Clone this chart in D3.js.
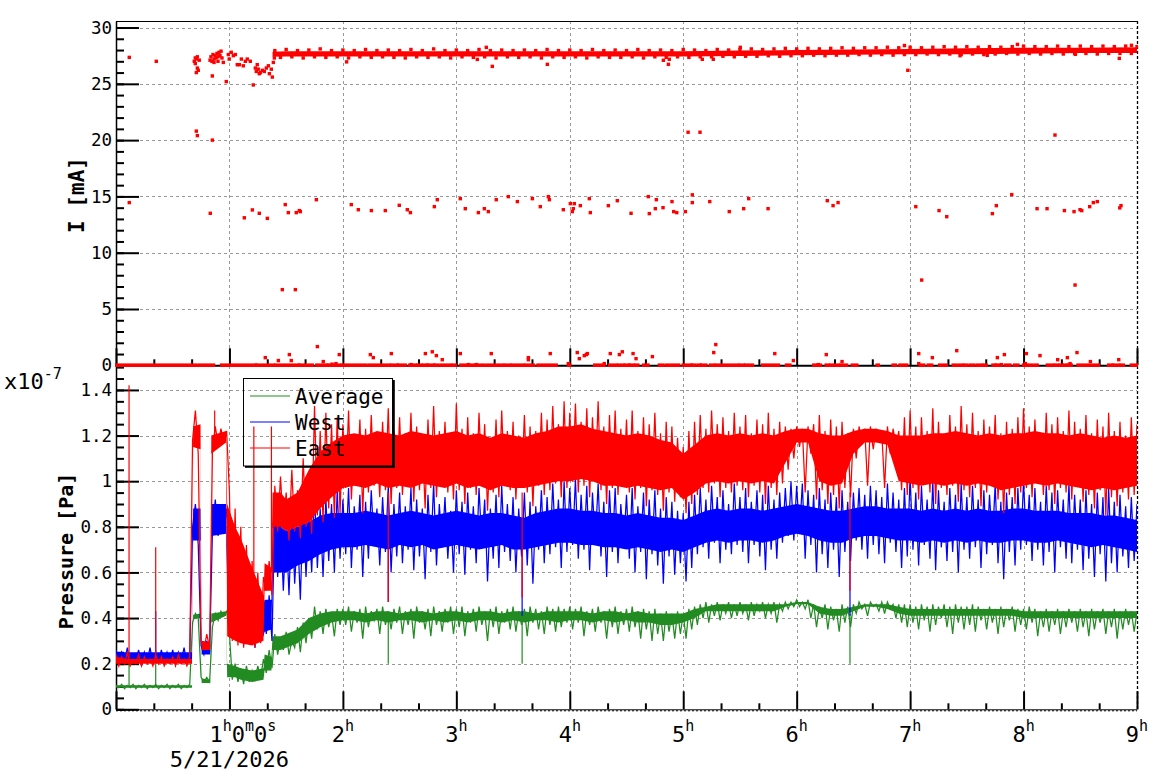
<!DOCTYPE html>
<html><head><meta charset="utf-8">
<script src="https://cdn.jsdelivr.net/npm/d3@7"></script>
<style>body{margin:0;background:#fff}svg{display:block}</style>
</head><body>
<script>
// ---------------- DATA ----------------
const currentTicks = [0,5,10,15,20,25,30];
const pressureTicks = [0,0.2,0.4,0.6,0.8,1,1.2,1.4];
const hourTicks = [1,2,3,4,5,6,7,8,9];
const hourLabels = ["1^h0^m0^s","2^h","3^h","4^h","5^h","6^h","7^h","8^h","9^h"];
const dateLabel = "5/21/2026";
const seriesNames = ["Average","West","East"];

// Top panel: I [mA]. Runs of zero-current readings [start h, end h]
const zeroRunStart = [0.0,0.73,0.93,1.24,1.41,1.62,1.70,1.77,1.87,1.99,2.23,2.43,2.49,2.59,2.66,2.71,2.75,2.81,2.87,2.97,3.04,3.11,3.27,3.43,3.49,3.61,3.72,3.99,4.22,4.35,4.43,4.49,4.53,4.58,4.65,4.79,4.85,5.00,5.08,5.13,5.16,5.24,5.29,5.41,5.50,5.55,5.70,5.91,6.15,6.19,6.26,6.30,6.34,6.39,6.49,6.71,6.85,6.91,7.09,7.16,7.26,7.38,7.43,7.48,7.53,7.59,7.65,7.73,7.76,7.84,7.92,8.00,8.10,8.21,8.28,8.32,8.36,8.39,8.48,8.61,8.75,8.79,8.86,8.95];
const zeroRunEnd   = [0.70,0.86,1.23,1.39,1.61,1.67,1.73,1.86,1.97,2.20,2.41,2.48,2.55,2.64,2.69,2.74,2.80,2.84,2.95,2.99,3.09,3.24,3.41,3.47,3.59,3.68,3.88,4.00,4.30,4.41,4.47,4.52,4.56,4.60,4.69,4.82,4.96,5.07,5.10,5.15,5.20,5.27,5.38,5.48,5.53,5.61,5.84,5.94,6.18,6.21,6.28,6.32,6.37,6.44,6.53,6.72,6.87,6.97,7.12,7.19,7.32,7.40,7.46,7.50,7.56,7.63,7.67,7.75,7.79,7.88,7.95,8.07,8.12,8.26,8.30,8.34,8.38,8.42,8.58,8.66,8.78,8.84,8.88,9.0];
// main stable current band (core)
const bandT  = [1.38,1.5,2,2.5,3,3.5,4,4.5,5,5.5,6,6.5,7,7.5,8,8.5,9];
const bandLo = [27.4,27.43,27.43,27.43,27.43,27.43,27.43,27.43,27.43,27.48,27.53,27.58,27.63,27.63,27.68,27.73,27.73];
const bandHi = [27.85,27.9,27.9,27.9,27.9,27.9,27.9,27.9,27.9,27.95,28.0,28.05,28.1,28.15,28.2,28.2,28.25];
// band edge readings, one every 0.05 h starting at 1.40 h
const bandJitterStartH = 1.4, bandJitterStepH = 0.05;
const bandJitterI = [27.95,27.35,28.05,27.40,27.95,27.30,28.00,27.40,28.10,27.35,27.95,27.40,28.00,27.30,27.95,27.40,28.05,27.35,27.95,27.40,28.00,27.35,27.95,27.30,28.05,27.40,27.95,27.35,28.10,27.40,27.95,27.30,28.00,27.40,27.95,27.35,28.05,27.40,27.95,27.30,28.00,27.40,27.95,27.35,28.00,27.40,27.95,27.30,28.05,27.40,27.95,27.35,28.00,27.40,27.95,27.30,28.05,27.40,27.95,27.35,28.00,27.35,27.95,27.40,28.05,27.30,27.95,27.40,28.00,27.35,27.95,27.40,28.05,27.35,28.00,27.40,27.95,27.40,28.05,27.45,28.00,27.40,28.05,27.45,28.10,27.45,28.05,27.50,28.10,27.45,28.15,27.50,28.10,27.50,28.15,27.55,28.10,27.50,28.15,27.55,28.20,27.55,28.15,27.60,28.20,27.55,28.20,27.60,28.25,27.55,28.20,27.60,28.25,27.60,28.20,27.65,28.25,27.60,28.30,27.65,28.25,27.60,28.30,27.65,28.25,27.60,28.30,27.65,28.25,27.70,28.30,27.65,28.35,27.70,28.30,27.65,28.30,27.70,28.35,27.65,28.30,27.70,28.35,27.70,28.30,27.65,28.35,27.70,28.30,27.70,28.35,27.70,28.30];
// early (ramp-up) current readings
const earlyT = [0.117,0.355,0.690,0.699,0.708,0.717,0.725,0.734,0.708,0.717,0.699,0.708,0.717,0.849,0.849,0.829,0.837,0.846,0.855,0.864,0.873,0.882,0.890,0.899,0.908,0.917,0.926,0.934,0.864,0.899,0.946,0.972,0.990,0.998,1.016,1.034,1.052,1.069,1.087,1.105,1.122,1.140,1.157,1.184,1.210,1.228,1.237,1.245,1.254,1.263,1.272,1.290,1.307,1.325,1.343,1.352,1.369,1.378,1.387,1.396];
const earlyI = [27.35,27.0,27.0,27.3,27.2,26.4,26.2,27.1,26.0,27.4,26.8,20.8,20.4,25.7,20.0,27.1,27.4,27.0,27.6,27.2,27.5,27.3,27.7,27.4,27.8,27.5,27.9,27.3,26.9,27.0,26.9,25.2,27.6,27.2,27.8,27.5,27.6,26.7,26.7,27.2,26.6,27.0,27.2,27.0,24.9,26.4,26.1,26.7,26.3,25.9,26.0,26.2,26.1,26.4,26.6,25.9,26.3,25.6,26.9,27.3];
// single readings off the band
const bandOutT = [2.033,3.185,3.317,3.802,4.825,4.869,4.877,5.168,5.265,3.264,5.503,7.946,7.68,8.457,8.844,8.951,7.44,6.98,6.95,5.043,5.148,8.277];
const bandOutI = [26.95,27.17,26.55,26.73,27.09,26.73,27.18,27.18,27.18,28.24,28.24,28.5,27.53,27.62,27.26,28.42,27.5,26.2,28.4,20.7,20.7,20.45];
const midT = [0.117,0.831,1.131,1.202,1.263,1.334,1.492,1.519,1.589,1.616,1.625,1.766,2.074,2.136,2.251,2.374,2.497,2.568,2.595,2.806,2.832,3.035,3.079,3.194,3.247,3.282,3.352,3.458,3.538,3.670,3.740,3.811,3.820,3.943,4.005,4.022,4.031,4.040,4.093,4.172,4.181,4.340,4.419,4.540,4.692,4.701,4.754,4.763,4.822,4.901,4.916,4.943,5.019,5.080,5.080,5.234,5.406,5.533,5.577,5.748,6.270,6.321,6.365,7.050,7.255,7.323,7.725,7.760,7.896,8.119,8.207,8.360,8.445,8.498,8.513,8.583,8.615,8.650,8.848,8.859,1.466,1.581,7.102,8.454];
const midI = [14.45,13.5,13.1,13.8,13.5,13.05,14.27,13.56,13.56,13.74,13.65,14.71,14.27,13.82,13.74,13.74,14.21,13.82,13.56,14.09,14.71,14.8,13.91,13.56,13.91,13.65,14.71,14.98,14.54,14.8,14.09,14.98,14.71,13.82,14.36,13.65,13.91,14.36,14.18,14.8,13.56,14.18,14.62,13.5,14.98,13.47,13.91,14.71,14.0,14.54,13.65,13.56,13.65,15.14,14.45,14.54,13.65,13.91,14.8,13.91,14.62,14.18,14.45,14.09,13.74,13.2,13.47,14.18,15.16,13.91,13.91,13.74,13.65,13.82,13.74,14.09,14.45,14.54,13.98,14.18,6.72,6.72,7.57,7.13];
const lowT = [1.316,1.431,1.528,1.545,1.775,1.827,1.904,1.939,1.968,2.242,2.268,2.427,2.603,2.727,2.788,2.824,2.876,3.035,3.106,3.176,3.308,3.635,3.635,3.828,3.987,4.066,4.084,4.128,4.146,4.155,4.304,4.357,4.437,4.463,4.558,4.584,4.728,5.269,5.287,5.807,5.971,6.191,6.261,6.400,7.076,7.076,7.196,7.411,7.769,7.804,7.831,8.016,8.025,8.145,8.301,8.386,8.410,8.471,8.589,8.839];
const lowI = [0.68,0.42,0.95,0.42,1.66,0.33,0.10,0.15,0.95,0.95,0.68,1.04,0.06,1.04,1.2,0.86,0.5,1.04,0.06,0.06,1.04,0.68,0.5,1.04,0.15,1.13,0.59,0.86,0.95,1.04,0.15,1.04,0.95,1.2,1.04,0.59,0.77,1.13,1.84,1.04,0.42,0.06,0.95,0.33,1.04,0.15,0.68,1.3,0.68,0.06,0.95,0.15,1.04,0.86,0.5,0.68,0.15,1.13,0.33,0.5];

// Bottom panel: pressure [x1e-7 Pa]; dense core band (lower/upper edge) at coreT [h]
const coreT = [0,0.1,0.2,0.3,0.4,0.5,0.6,0.67,0.68,0.745,0.755,0.83,0.84,0.97,0.98,1.05,1.1,1.2,1.3,1.31,1.37,1.38,1.45,1.5,1.6,1.7,1.8,1.9,2.0,2.1,2.2,2.3,2.4,2.5,2.6,2.7,2.8,2.9,3.0,3.1,3.2,3.3,3.4,3.5,3.6,3.7,3.8,3.9,4.0,4.1,4.2,4.3,4.4,4.5,4.6,4.7,4.8,4.9,5.0,5.1,5.2,5.3,5.4,5.5,5.6,5.7,5.8,5.9,6.0,6.1,6.2,6.3,6.4,6.5,6.6,6.7,6.8,6.9,7.0,7.1,7.2,7.3,7.4,7.5,7.6,7.7,7.8,7.9,8.0,8.1,8.2,8.3,8.4,8.5,8.6,8.7,8.8,8.9,9.0];
const eastLo = [0.20,0.20,0.20,0.20,0.20,0.20,0.20,0.20,1.15,1.14,0.26,0.26,1.12,1.17,0.32,0.30,0.29,0.28,0.30,0.52,0.52,0.80,0.80,0.78,0.80,0.82,0.88,0.93,0.97,
 0.98,0.97,0.99,0.97,0.98,0.97,0.99,0.98,0.97,0.99, 0.97,0.98,0.96,0.98,0.97,0.97,0.98,0.99,1.00,1.00, 1.01,1.00,0.98,0.98,0.97,0.98,0.97,0.96,0.97,0.92, 0.95,0.99,1.00,0.99,1.00,0.99,1.00,0.99,1.08,1.17, 1.17,1.00,0.98,0.99,1.12,1.17,1.17,1.16,1.00,0.99, 0.98,0.99,0.98,0.99,0.98,0.99,0.98,0.96,0.97,0.98, 0.99,0.98,0.99,0.98,0.97,0.96,0.97,0.96,0.97,0.98];
const eastHi = [0.23,0.22,0.22,0.22,0.22,0.22,0.22,0.22,1.24,1.25,0.30,0.29,1.20,1.22,0.90,0.80,0.75,0.62,0.50,0.64,0.62,0.95,0.95,0.92,0.95,1.05,1.13,1.17,1.20,
 1.21,1.20,1.22,1.21,1.20,1.22,1.21,1.20,1.21,1.22, 1.20,1.21,1.19,1.21,1.20,1.19,1.21,1.22,1.24,1.24, 1.25,1.23,1.22,1.21,1.20,1.21,1.20,1.18,1.17,1.12, 1.16,1.20,1.21,1.20,1.21,1.20,1.21,1.20,1.22,1.23, 1.23,1.21,1.20,1.20,1.22,1.23,1.23,1.22,1.20,1.20, 1.20,1.21,1.21,1.22,1.21,1.20,1.21,1.20,1.21,1.21, 1.22,1.21,1.21,1.20,1.21,1.20,1.19,1.20,1.19,1.20];
const westLo = [0.21,0.21,0.21,0.21,0.21,0.21,0.21,0.21,0.74,0.74,0.24,0.24,0.76,0.77,0.55,0.35,0.32,0.30,0.32,0.34,0.35,0.60,0.60,0.60,0.63,0.65,0.68,0.70,0.71,
 0.71,0.72,0.71,0.70,0.72,0.71,0.72,0.70,0.71,0.72, 0.71,0.70,0.71,0.72,0.70,0.70,0.71,0.72,0.73,0.73, 0.72,0.72,0.71,0.71,0.70,0.71,0.70,0.69,0.70,0.69, 0.71,0.73,0.74,0.73,0.74,0.74,0.73,0.74,0.76,0.77, 0.76,0.74,0.73,0.73,0.75,0.76,0.76,0.75,0.74,0.74, 0.73,0.74,0.73,0.74,0.73,0.74,0.73,0.73,0.74,0.74, 0.73,0.73,0.74,0.73,0.72,0.71,0.72,0.71,0.70,0.69];
const westHi = [0.25,0.25,0.25,0.25,0.25,0.25,0.25,0.25,0.88,0.88,0.30,0.29,0.90,0.90,0.68,0.55,0.50,0.48,0.46,0.48,0.48,0.82,0.80,0.78,0.80,0.82,0.85,0.86,0.86,
 0.86,0.87,0.86,0.85,0.86,0.87,0.86,0.85,0.86,0.87, 0.86,0.85,0.86,0.86,0.85,0.84,0.86,0.87,0.88,0.88, 0.87,0.87,0.86,0.86,0.85,0.86,0.85,0.84,0.84,0.83, 0.85,0.87,0.88,0.87,0.88,0.88,0.87,0.88,0.89,0.90, 0.89,0.88,0.87,0.87,0.88,0.89,0.89,0.88,0.88,0.88, 0.87,0.88,0.87,0.88,0.87,0.88,0.87,0.87,0.88,0.88, 0.87,0.87,0.87,0.86,0.86,0.86,0.85,0.85,0.84,0.83];
const avgLo = [0.095,0.095,0.095,0.095,0.095,0.095,0.095,0.095,0.395,0.40,0.115,0.115,0.38,0.41,0.14,0.14,0.13,0.12,0.13,0.17,0.17,0.26,0.26,0.27,0.29,0.33,0.36,0.38,0.39,
 0.39,0.38,0.39,0.38,0.39,0.39,0.38,0.39,0.38,0.39, 0.38,0.39,0.39,0.38,0.39,0.38,0.39,0.39,0.38,0.39, 0.39,0.38,0.39,0.38,0.39,0.38,0.38,0.37,0.37,0.38, 0.40,0.43,0.43,0.43,0.43,0.43,0.43,0.43,0.45,0.46, 0.46,0.42,0.41,0.41,0.43,0.45,0.45,0.44,0.42,0.41, 0.41,0.41,0.41,0.41,0.41,0.41,0.41,0.41,0.41,0.40, 0.40,0.40,0.40,0.40,0.40,0.40,0.40,0.40,0.40,0.40];
const avgHi = [0.105,0.105,0.105,0.105,0.105,0.105,0.105,0.105,0.415,0.42,0.135,0.13,0.42,0.43,0.20,0.19,0.18,0.17,0.18,0.24,0.23,0.32,0.32,0.33,0.35,0.40,0.42,0.43,0.43,
 0.43,0.42,0.43,0.43,0.42,0.43,0.43,0.42,0.43,0.43, 0.42,0.43,0.43,0.42,0.43,0.43,0.42,0.43,0.43,0.43, 0.43,0.42,0.43,0.43,0.42,0.43,0.42,0.42,0.42,0.42, 0.44,0.45,0.46,0.46,0.46,0.46,0.46,0.46,0.46,0.47, 0.47,0.45,0.44,0.44,0.45,0.46,0.46,0.46,0.45,0.44, 0.44,0.44,0.44,0.44,0.44,0.44,0.44,0.44,0.44,0.43, 0.43,0.43,0.43,0.43,0.43,0.43,0.43,0.43,0.43,0.43];

// fluctuation readings, one every 0.025 h from 0 h (20 per row = 0.5 h)
const sampleStepH = 0.025;
const eastSamples = [
 0.24,0.19,0.23,0.20,0.25,0.19,0.22,0.20,0.24,0.19,0.23,0.20,0.22,0.19,0.24,0.20,0.23,0.19,0.22,0.20,
 0.23,0.19,0.24,0.20,0.22,0.19,0.23,1.18,1.31,1.12,0.30,0.26,0.33,0.27,1.13,1.24,1.16,1.23,1.17,1.22,
 0.95,0.30,0.88,0.28,0.80,0.27,0.72,0.30,0.65,0.27,0.60,0.29,0.58,0.52,0.65,0.50,0.98,0.78,1.02,0.80,
 0.95,0.74,1.05,0.78,0.96,0.75,1.10,0.80,0.98,0.77,1.33,0.85,1.22,0.82,1.30,0.88,1.25,0.84,1.28,0.86,
 1.25,0.97,1.31,0.92,1.20,0.99,1.27,0.86,1.23,0.95,1.29,0.98,1.18,0.93,1.26,0.96,1.32,0.90,1.22,0.97,
 1.28,0.94,1.21,0.99,1.30,0.91,1.24,0.96,1.19,0.88,1.27,0.97,1.33,0.93,1.22,0.98,1.26,0.95,1.20,0.92,
 1.34,0.96,1.23,0.90,1.28,0.97,1.21,0.94,1.30,0.99,1.25,0.87,1.19,0.95,1.27,0.93,1.31,0.98,1.22,0.96,
 1.26,0.92,1.20,0.97,1.29,0.95,1.24,0.89,1.22,0.98,1.30,0.94,1.27,0.96,1.33,0.99,1.25,0.93,1.35,0.97,
 1.30,1.00,1.34,0.95,1.26,0.98,1.32,0.93,1.28,1.01,1.35,0.96,1.24,0.90,1.29,0.97,1.31,0.94,1.23,0.98,
 1.27,0.95,1.31,0.92,1.22,0.97,1.28,0.89,1.25,0.96,1.30,0.94,1.21,0.87,1.26,0.95,1.24,0.91,1.19,0.93,
 1.15,0.86,1.22,0.90,1.26,0.94,1.29,0.97,1.23,0.95,1.31,0.99,1.25,0.93,1.28,0.97,1.22,0.95,1.30,0.98,
 1.24,0.96,1.29,0.93,1.21,0.98,1.27,0.95,1.25,0.90,1.30,0.97,1.23,0.94,1.26,0.99,1.24,1.05,1.23,1.10,
 1.24,1.15,1.23,0.95,1.24,1.12,1.25,0.92,1.29,0.96,1.22,0.90,1.27,0.94,1.24,0.88,1.26,0.97,1.21,0.93,
 1.23,1.10,1.24,1.16,1.23,0.98,1.24,1.14,1.23,1.17,1.22,0.97,1.24,1.12,1.23,1.15,1.22,0.96,1.28,0.94,
 1.31,0.97,1.24,0.92,1.28,0.99,1.22,0.95,1.32,0.90,1.26,0.97,1.20,0.94,1.29,0.98,1.24,0.91,1.33,0.96,
 1.25,0.93,1.30,0.97,1.22,0.89,1.27,0.95,1.24,0.98,1.29,0.92,1.21,0.86,1.26,0.94,1.23,0.90,1.28,0.95,
 1.32,0.97,1.24,0.93,1.27,0.99,1.21,0.94,1.30,0.96,1.25,0.90,1.28,0.97,1.22,0.95,1.31,0.92,1.26,0.98,
 1.23,0.91,1.29,0.94,1.21,0.88,1.27,0.96,1.24,0.85,1.30,0.93,1.22,0.89,1.26,0.95,1.20,0.92,1.28,0.94,
 1.25];
const westSamples = [
 0.26,0.20,0.25,0.21,0.27,0.20,0.24,0.22,0.26,0.19,0.25,0.21,0.27,0.20,0.24,0.21,0.26,0.20,0.25,0.21,
 0.26,0.20,0.25,0.21,0.27,0.20,0.24,0.80,0.90,0.72,0.28,0.24,0.30,0.25,0.78,0.92,0.76,0.90,0.77,0.88,
 0.68,0.35,0.58,0.30,0.52,0.28,0.50,0.31,0.48,0.27,0.47,0.30,0.46,0.33,0.50,0.30,0.88,0.58,0.82,0.52,
 0.80,0.50,0.86,0.55,0.78,0.48,0.90,0.58,0.84,0.60,0.95,0.62,0.88,0.58,0.92,0.65,0.90,0.60,0.96,0.66,
 0.92,0.68,0.97,0.62,0.89,0.70,0.94,0.58,0.91,0.66,0.96,0.72,0.88,0.63,0.93,0.69,0.98,0.60,0.90,0.67,
 0.95,0.64,0.89,0.70,0.97,0.61,0.92,0.67,0.88,0.57,0.94,0.69,0.99,0.63,0.90,0.71,0.93,0.66,0.87,0.60,
 0.96,0.68,0.91,0.59,0.95,0.70,0.89,0.64,0.97,0.72,0.92,0.56,0.88,0.66,0.94,0.62,0.98,0.69,0.90,0.65,
 0.93,0.60,0.88,0.67,0.95,0.63,0.91,0.55,0.89,0.70,0.96,0.64,0.93,0.68,0.99,0.71,0.92,0.62,1.00,0.69,
 0.97,0.72,1.01,0.66,0.94,0.70,0.98,0.61,0.95,0.73,0.99,0.67,0.91,0.58,0.96,0.69,0.97,0.64,0.90,0.71,
 0.94,0.66,0.97,0.60,0.89,0.69,0.95,0.57,0.92,0.68,0.96,0.63,0.88,0.55,0.93,0.67,0.91,0.59,0.87,0.64,
 0.86,0.56,0.91,0.62,0.94,0.68,0.97,0.71,0.92,0.66,0.98,0.73,0.93,0.64,0.96,0.70,0.90,0.68,0.99,0.72,
 0.93,0.69,0.97,0.64,0.91,0.72,0.96,0.67,0.94,0.61,0.98,0.70,0.92,0.66,0.95,0.73,0.97,0.76,1.00,0.74,
 0.98,0.77,0.99,0.66,0.96,0.72,0.94,0.60,0.97,0.68,0.92,0.62,0.95,0.70,0.93,0.58,0.96,0.69,0.91,0.65,
 0.95,0.74,0.97,0.70,0.94,0.66,0.98,0.72,0.96,0.68,0.93,0.64,0.99,0.73,0.95,0.69,0.92,0.62,0.97,0.67,
 1.02,0.70,0.95,0.63,0.98,0.72,0.92,0.66,1.00,0.61,0.96,0.71,0.91,0.65,0.97,0.69,0.94,0.60,0.99,0.70,
 0.93,0.66,0.98,0.71,0.92,0.62,0.96,0.68,0.94,0.72,0.99,0.64,0.91,0.57,0.95,0.69,0.93,0.63,0.97,0.70,
 1.00,0.72,0.94,0.65,0.97,0.70,0.91,0.63,0.98,0.69,0.95,0.60,0.96,0.71,0.92,0.66,0.99,0.64,0.94,0.70,
 0.92,0.61,0.96,0.66,0.90,0.58,0.95,0.68,0.93,0.56,0.97,0.64,0.91,0.60,0.94,0.67,0.89,0.62,0.93,0.65,
 0.90];
const avgSamples = [
 0.105,0.095,0.11,0.09,0.105,0.095,0.11,0.09,0.105,0.095,0.11,0.09,0.105,0.095,0.11,0.09,0.105,0.095,0.11,0.09,
 0.105,0.095,0.11,0.09,0.105,0.095,0.11,0.38,0.42,0.40,0.14,0.12,0.14,0.12,0.36,0.42,0.39,0.43,0.41,0.43,
 0.33,0.13,0.20,0.12,0.18,0.11,0.19,0.12,0.17,0.13,0.19,0.14,0.22,0.16,0.26,0.18,0.33,0.24,0.31,0.26,
 0.34,0.24,0.30,0.27,0.36,0.25,0.38,0.29,0.40,0.31,0.45,0.35,0.43,0.33,0.44,0.36,0.42,0.32,0.44,0.37,
 0.44,0.37,0.45,0.34,0.43,0.38,0.44,0.31,0.45,0.36,0.43,0.39,0.44,0.33,0.45,0.37,0.43,0.35,0.44,0.38,
 0.45,0.33,0.43,0.37,0.44,0.31,0.45,0.38,0.43,0.35,0.44,0.32,0.45,0.37,0.43,0.34,0.44,0.38,0.45,0.33,
 0.44,0.36,0.45,0.32,0.43,0.38,0.44,0.34,0.45,0.37,0.43,0.30,0.44,0.36,0.45,0.33,0.43,0.38,0.44,0.35,
 0.45,0.34,0.43,0.37,0.44,0.32,0.45,0.38,0.44,0.35,0.43,0.33,0.45,0.37,0.44,0.34,0.45,0.36,0.44,0.38,
 0.45,0.35,0.44,0.38,0.45,0.32,0.43,0.37,0.44,0.34,0.45,0.38,0.43,0.31,0.44,0.36,0.45,0.33,0.43,0.37,
 0.44,0.34,0.45,0.36,0.43,0.31,0.44,0.35,0.43,0.30,0.44,0.33,0.42,0.30,0.43,0.34,0.42,0.31,0.43,0.33,
 0.42,0.31,0.44,0.35,0.45,0.37,0.46,0.40,0.47,0.38,0.46,0.41,0.47,0.39,0.46,0.42,0.47,0.40,0.46,0.41,
 0.47,0.42,0.46,0.39,0.47,0.41,0.46,0.43,0.47,0.40,0.46,0.42,0.47,0.38,0.46,0.43,0.47,0.44,0.47,0.45,
 0.48,0.45,0.47,0.44,0.48,0.40,0.46,0.36,0.45,0.40,0.46,0.35,0.45,0.39,0.44,0.34,0.46,0.38,0.45,0.36,
 0.46,0.42,0.47,0.44,0.46,0.41,0.47,0.45,0.46,0.43,0.47,0.42,0.47,0.44,0.46,0.40,0.46,0.38,0.46,0.36,
 0.46,0.38,0.45,0.35,0.46,0.39,0.45,0.34,0.46,0.37,0.45,0.40,0.46,0.36,0.45,0.33,0.46,0.38,0.45,0.35,
 0.45,0.37,0.46,0.34,0.45,0.39,0.44,0.35,0.45,0.38,0.44,0.33,0.45,0.36,0.44,0.39,0.45,0.34,0.44,0.37,
 0.44,0.35,0.45,0.38,0.44,0.32,0.43,0.36,0.44,0.34,0.43,0.37,0.44,0.33,0.43,0.36,0.44,0.38,0.43,0.34,
 0.44,0.36,0.43,0.32,0.44,0.35,0.43,0.38,0.44,0.33,0.43,0.36,0.44,0.31,0.43,0.35,0.44,0.37,0.43,0.34,
 0.43];
// isolated excursions [time h, from, to]
const eastSpikes = [[0.115,0.21,1.42],[0.35,0.21,0.71],[0.87,1.15,1.31],[1.215,0.55,1.24],[1.37,0.6,1.24],[2.4,0.95,0.47],[3.58,0.95,0.49],[6.47,0.95,0.52]];
const westSpikes = [[0.35,0.23,0.43],[2.4,0.75,0.47],[3.58,0.75,0.41],[6.47,0.75,0.41]];
const avgSpikes  = [[0.115,0.10,0.23],[0.35,0.10,0.26],[2.4,0.40,0.20],[3.58,0.40,0.20],[6.47,0.42,0.20]];

// ---------------- DRAWING ----------------
const FONT = '"DejaVu Sans Mono", monospace';
const RED = '#ff0000', BLUE = '#0000ff', GREEN = '#228b22';
const svg = d3.select('body').append('svg').attr('width',1158).attr('height',782);
const x  = d3.scaleLinear().domain([0,9]).range([116,1137]);
const yI = d3.scaleLinear().domain([0,30.58]).range([365.3,21]);
const yP = d3.scaleLinear().domain([0,1.508]).range([709.3,365.3]);

const defs = svg.append('defs');
defs.append('clipPath').attr('id','clipTop').append('rect').attr('x',115).attr('y',21).attr('width',1023).attr('height',348);
defs.append('clipPath').attr('id','clipBot').append('rect').attr('x',116).attr('y',366.5).attr('width',1021).attr('height',343);

function grid(yScale, yVals, yTop, yBottom) {
  const g = svg.append('g').attr('stroke','#999').attr('stroke-width',1).attr('stroke-dasharray','3,3');
  yVals.forEach(v => { const yy = Math.round(yScale(v)) + 0.5;
    g.append('line').attr('x1',116).attr('x2',1137).attr('y1',yy).attr('y2',yy); });
  hourTicks.slice(0,8).forEach(h => { const xx = Math.round(x(h)) + 0.5;
    g.append('line').attr('x1',xx).attr('x2',xx).attr('y1',yTop).attr('y2',yBottom); });
}
grid(yI, currentTicks.slice(1), 21, 365);
grid(yP, pressureTicks.slice(1), 366, 709);

function styleAxis(g, sw) {
  g.attr('font-family', FONT);
  g.selectAll('line').attr('stroke','#000').attr('stroke-width', sw);
  g.selectAll('path.domain').attr('stroke','#000');
  g.selectAll('text').attr('fill','#000');
}
const thirds = d3.range(0,27).filter(i => i % 3).map(i => i/3);
const topYMajor = svg.append('g').attr('transform','translate(116,0)')
  .call(d3.axisLeft(yI).tickValues(currentTicks).tickSize(-23).tickSizeOuter(0).tickPadding(4).tickFormat(d3.format('d')));
styleAxis(topYMajor, 2); topYMajor.selectAll('text').attr('font-size',17.5);
topYMajor.select('path.domain').attr('stroke-width',1.5);
const topYMinor = svg.append('g').attr('transform','translate(116,0)')
  .call(d3.axisLeft(yI).tickValues(d3.range(0,31,1)).tickSize(-8).tickSizeOuter(0).tickFormat(''));
styleAxis(topYMinor, 2); topYMinor.select('path.domain').remove();
const topXMajor = svg.append('g').attr('transform','translate(0,365.3)')
  .call(d3.axisBottom(x).tickValues([0].concat(hourTicks)).tickSize(-17).tickSizeOuter(0).tickFormat(''));
styleAxis(topXMajor, 2); topXMajor.select('path.domain').attr('stroke-width',2);
const topXMinor = svg.append('g').attr('transform','translate(0,365.3)')
  .call(d3.axisBottom(x).tickValues(thirds).tickSize(-6).tickFormat(''));
styleAxis(topXMinor, 2); topXMinor.select('path.domain').remove();
svg.append('line').attr('x1',116).attr('x2',1137).attr('y1',21.5).attr('y2',21.5).attr('stroke','#000');
svg.append('line').attr('x1',1137.5).attr('x2',1137.5).attr('y1',21).attr('y2',710).attr('stroke','#000').attr('stroke-dasharray','3,2').attr('stroke-width',1.3);

const botYMajor = svg.append('g').attr('transform','translate(116,0)')
  .call(d3.axisLeft(yP).tickValues(pressureTicks).tickSize(-23).tickSizeOuter(0).tickPadding(4).tickFormat(d => String(+d.toFixed(1))));
styleAxis(botYMajor, 2); botYMajor.selectAll('text').attr('font-size',17.5);
botYMajor.select('path.domain').attr('stroke-width',1.5);
const botYMinor = svg.append('g').attr('transform','translate(116,0)')
  .call(d3.axisLeft(yP).tickValues(d3.range(0,31).map(i => i*0.05)).tickSize(-8).tickSizeOuter(0).tickFormat(''));
styleAxis(botYMinor, 2); botYMinor.select('path.domain').remove();
const botXMajor = svg.append('g').attr('transform','translate(0,709.3)')
  .call(d3.axisBottom(x).tickValues([0].concat(hourTicks)).tickSize(-18).tickSizeOuter(0).tickFormat(''));
styleAxis(botXMajor, 2); botXMajor.select('path.domain').attr('stroke-width',1);
const botXMinor = svg.append('g').attr('transform','translate(0,709.3)')
  .call(d3.axisBottom(x).tickValues(thirds).tickSize(-6).tickFormat(''));
styleAxis(botXMinor, 2); botXMinor.select('path.domain').remove();
svg.append('line').attr('x1',116).attr('x2',1137).attr('y1',710.8).attr('y2',710.8).attr('stroke','#000').attr('stroke-dasharray','2,2');

hourLabels.forEach((lab, k) => {
  const parts = [...lab.matchAll(/(\d+)\^([a-z])/g)];
  const t = svg.append('text').attr('y',741.7).attr('font-family',FONT).attr('fill','#000');
  if (k === 0) t.attr('x', x(hourTicks[k]) - 20).attr('text-anchor','start');
  else t.attr('x', x(hourTicks[k])).attr('text-anchor','middle');
  parts.forEach((p, j) => {
    t.append('tspan').attr('font-size',22).attr('dy', j === 0 ? 0 : 11).text(p[1]);
    t.append('tspan').attr('font-size',15).attr('dy',-11).text(p[2]);
  });
});
svg.append('text').attr('x', x(1)).attr('y',767).attr('text-anchor','middle')
  .attr('font-family',FONT).attr('font-size',22).attr('fill','#000').text(dateLabel);
svg.append('text').attr('transform','translate(84,195) rotate(-90)').attr('text-anchor','middle')
  .attr('font-family',FONT).attr('font-weight','bold').attr('font-size',21).text('I [mA]');
svg.append('text').attr('transform','translate(73,551) rotate(-90)').attr('text-anchor','middle')
  .attr('font-family',FONT).attr('font-weight','bold').attr('font-size',20).text('Pressure [Pa]');
const exp = svg.append('text').attr('x',4).attr('y',389).attr('font-family',FONT).attr('fill','#000');
exp.append('tspan').attr('font-size',22).text('x10');
exp.append('tspan').attr('font-size',15).attr('dy',-10).text('-7');

// top panel data
const gTop = svg.append('g').attr('clip-path','url(#clipTop)');
gTop.selectAll('rect.zero').data(d3.range(zeroRunStart.length)).join('rect')
  .attr('x', i => x(zeroRunStart[i]) - 1.7).attr('width', i => x(zeroRunEnd[i]) - x(zeroRunStart[i]) + 3.4)
  .attr('y', yI(0) - 1.9).attr('height', 3.6).attr('fill', RED);
gTop.append('path').datum(d3.range(bandT.length))
  .attr('d', d3.area().x(i => x(bandT[i])).y0(i => yI(bandLo[i])).y1(i => yI(bandHi[i])))
  .attr('fill', RED);
const scatT = earlyT.concat(bandOutT, midT, lowT);
const scatI = earlyI.concat(bandOutI, midI, lowI);
const jitT = bandJitterI.map((v,i) => bandJitterStartH + i*bandJitterStepH);
const allT = scatT.concat(jitT), allI = scatI.concat(bandJitterI);
gTop.selectAll('rect.pt').data(d3.range(allT.length)).join('rect')
  .attr('x', i => x(allT[i]) - 1.7).attr('y', i => yI(allI[i]) - 1.7)
  .attr('width', 3.4).attr('height', 3.4).attr('fill', RED);

// bottom panel data
const gBot = svg.append('g').attr('clip-path','url(#clipBot)');
function drawSeries(lo, hi, samples, spikes, color) {
  gBot.append('path').datum(d3.range(coreT.length))
    .attr('d', d3.area().x(i => x(coreT[i])).y0(i => yP(lo[i])).y1(i => yP(hi[i])))
    .attr('fill', color);
  gBot.append('path').datum(samples)
    .attr('d', d3.line().x((d,i) => x(i*sampleStepH)).y(d => yP(d)))
    .attr('fill','none').attr('stroke', color).attr('stroke-width', 1.25);
  spikes.forEach(s => gBot.append('line').attr('x1', x(s[0])).attr('x2', x(s[0]))
    .attr('y1', yP(s[1])).attr('y2', yP(s[2])).attr('stroke', color).attr('stroke-width', 1.2));
}
drawSeries(avgLo, avgHi, avgSamples, avgSpikes, GREEN);
drawSeries(westLo, westHi, westSamples, westSpikes, BLUE);
drawSeries(eastLo, eastHi, eastSamples, eastSpikes, RED);

// legend
const lg = svg.append('g');
lg.append('rect').attr('x',393).attr('y',380).attr('width',1.8).attr('height',88).attr('fill','#000');
lg.append('rect').attr('x',245).attr('y',466).attr('width',149.8).attr('height',1.8).attr('fill','#000');
lg.append('rect').attr('x',243.5).attr('y',378.5).attr('width',149).attr('height',87.5)
  .attr('fill','none').attr('stroke','#000').attr('stroke-width',1);
[GREEN, BLUE, RED].forEach((c, k) => {
  const yy = 396 + k*26;
  lg.append('line').attr('x1',250).attr('x2',290).attr('y1',yy).attr('y2',yy).attr('stroke',c).attr('stroke-width',1.2);
  lg.append('text').attr('x',295).attr('y',yy+7.5).attr('font-family',FONT).attr('font-size',21)
    .attr('fill','#000').text(seriesNames[k]);
});
</script>
</body></html>
